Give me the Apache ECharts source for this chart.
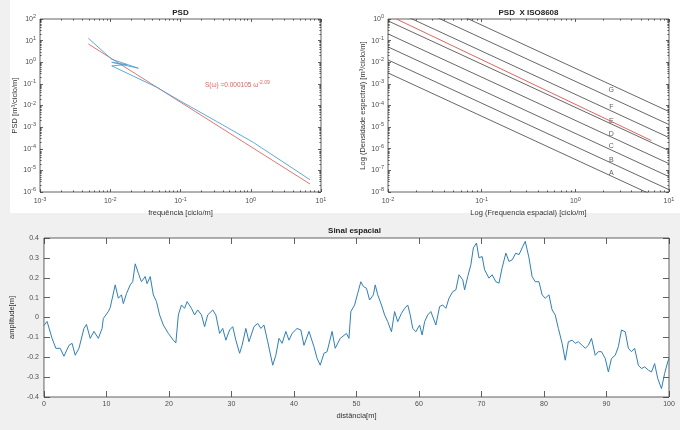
<!DOCTYPE html>
<html><head><meta charset="utf-8">
<script src="https://cdn.jsdelivr.net/npm/echarts@6/dist/echarts.min.js"></script>
<style>
html,body{margin:0;padding:0;background:#f0f0f0;}
#wrap{position:relative;width:680px;height:430px;}
#bgTop{position:absolute;left:10px;top:0;width:670px;height:213px;background:#ffffff;}
#c{position:absolute;left:0;top:0;width:680px;height:430px;}
</style>
</head><body><div id="wrap"><div id="bgTop"></div><div id="c"></div></div>
<script>
// ---------- data ----------
// PSD panel (log-log)
const psdFreq = [0.00488, 0.0105, 0.0251, 0.0105, 0.017, 0.0105, 0.0458, 0.0984, 0.327, 1.09, 6.97];
const psdVal  = [12.8, 1.37, 0.53, 1.0, 0.78, 0.68, 0.070, 0.0164, 0.00183, 1.96e-4, 3.7e-6];
const fitFreq = [0.00488, 6.97];
const fitVal  = [7.0, 2.34e-6];
const fitText = 'S(ω) =0.000105 ω';
const fitExp  = '-2.09';
const fitTextPos = [0.223, 0.09];

// PSD x ISO8608 panel
const isoFreq = [0.01, 10];
const isoStartVal = [3.2e-3, 1.28e-2, 5.12e-2, 0.2048, 0.8192, 3.2768, 13.1072, 52.4288];
const isoEndVal   = [3.2e-9, 1.28e-8, 5.12e-8, 2.048e-7, 8.192e-7, 3.2768e-6, 1.31072e-5, 5.24288e-5];
const isoFitFreq = [0.0123, 6.47];
const isoFitVal  = [1.0, 2.4e-6];
const isoClass   = ['G', 'F', 'E', 'D', 'C', 'B', 'A'];
const isoLabelX  = 2.42;
const isoLabelY  = [5.28e-4, 8.38e-5, 1.83e-5, 4.92e-6, 1.28e-6, 3.1e-7, 7.5e-8];

// Sinal espacial
const sigX = [0,0.5,1.3,1.9,2.6,3.2,4.0,4.5,5.0,5.6,6.4,6.8,7.4,8.0,8.7,9.3,9.5,10.3,10.6,11.4,11.9,12.4,12.7,13.2,13.8,14.2,14.6,15.1,15.6,16.2,16.5,17.0,17.5,18.0,18.5,19.1,19.9,20.7,21.1,21.5,22.0,22.5,22.9,23.6,24.1,24.6,25.2,25.7,26.2,27.0,27.5,28.1,28.6,29.1,29.7,30.2,30.7,31.3,31.7,32.3,32.8,33.6,34.2,34.7,35.2,35.8,36.6,37.1,37.6,38.1,38.7,39.2,39.7,40.5,41.1,41.6,42.4,43.2,43.7,44.2,44.8,45.3,46.1,46.6,47.4,48.4,48.8,49.1,49.7,50.2,50.7,51.1,51.6,52.1,52.7,53.0,53.4,54.0,54.5,55.0,55.6,56.1,56.6,57.2,57.7,58.2,58.6,59.0,59.5,60.1,60.5,60.9,61.4,61.9,62.7,63.3,63.8,64.3,64.8,65.4,65.9,66.4,67.0,67.3,67.8,68.3,68.7,69.2,69.6,70.1,70.5,71.2,71.7,72.3,72.8,73.3,73.9,74.4,74.9,75.5,76.0,76.5,77.0,77.6,78.1,78.6,79.2,79.7,80.2,80.8,81.3,81.8,82.3,82.9,83.4,83.9,84.5,85.0,85.5,86.1,86.6,87.1,87.6,88.2,88.7,89.2,89.8,90.3,90.8,91.4,91.9,92.4,93.0,93.5,94.0,94.5,95.1,95.6,96.1,96.7,97.2,97.7,98.2,98.8,99.3,99.8,100];
const sigY = [-0.04,-0.02,-0.105,-0.155,-0.155,-0.195,-0.14,-0.13,-0.19,-0.155,-0.055,-0.035,-0.105,-0.07,-0.105,-0.055,-0.005,0.03,0.05,0.164,0.097,0.114,0.07,0.12,0.164,0.18,0.27,0.223,0.18,0.206,0.17,0.206,0.114,0.08,0.013,-0.038,-0.08,-0.114,-0.128,0.013,0.063,0.046,0.08,0.046,0.013,0.038,0.013,-0.046,0.013,0.038,0.013,-0.08,-0.055,-0.114,-0.063,-0.046,-0.114,-0.18,-0.14,-0.055,-0.122,-0.046,-0.03,-0.055,-0.038,-0.122,-0.24,-0.19,-0.105,-0.13,-0.07,-0.114,-0.08,-0.055,-0.063,-0.14,-0.07,-0.147,-0.206,-0.24,-0.18,-0.172,-0.07,-0.155,-0.105,-0.08,-0.105,0.03,0.063,0.122,0.18,0.156,0.147,0.088,0.114,0.164,0.114,0.063,0.013,-0.021,-0.072,0.03,-0.021,0.021,0.046,0.063,0.013,-0.055,-0.072,-0.038,-0.088,-0.021,0.013,0.03,-0.038,0.055,0.063,0.046,0.097,0.13,0.139,0.215,0.19,0.139,0.206,0.265,0.35,0.375,0.3,0.307,0.24,0.198,0.215,0.18,0.173,0.25,0.324,0.282,0.29,0.324,0.316,0.35,0.383,0.3,0.206,0.18,0.18,0.114,0.097,0.114,0.038,0.013,-0.055,-0.13,-0.215,-0.122,-0.114,-0.13,-0.122,-0.14,-0.155,-0.14,-0.105,-0.19,-0.172,-0.172,-0.206,-0.274,-0.206,-0.19,-0.147,-0.063,-0.072,-0.155,-0.172,-0.155,-0.24,-0.257,-0.248,-0.265,-0.274,-0.232,-0.307,-0.358,-0.282,-0.223,-0.206];

// ---------- helpers ----------
const FONT = '"Liberation Sans", Arial, Helvetica, sans-serif';
const TXT = '#4d4d4d';
const AX = '#3a3a3a';
function zip(a, b) { return a.map((v, i) => [v, b[i]]); }
function supLabel(v) { const e = Math.round(Math.log10(v)); return '10{e|' + e + '}'; }
const supRich = { e: { fontSize: 5.5, lineHeight: 6, verticalAlign: 'top', color: TXT, fontFamily: FONT } };
function minorVals(lo, hi) { const out = []; for (let m = lo; m < hi; m++) for (let k = 2; k <= 9; k++) out.push(+(k * Math.pow(10, m)).toPrecision(3)); return out; }

function logAxis(grid, pos, min, max, o) {
  o = o || {};
  const ax = {
    type: 'log', logBase: 10, gridIndex: grid, position: pos, min: min, max: max,
    axisLine: { show: false, onZero: false }, splitLine: { show: false }, minorTick: { show: false },
    axisTick: { show: true, inside: true, length: o.minor ? 1.6 : 3, lineStyle: { color: AX, width: 0.8 } },
    axisLabel: { show: false }
  };
  if (o.minor) ax.axisTick.customValues = o.minor;
  if (o.label) {
    ax.axisLabel = { show: true, formatter: supLabel, rich: supRich, fontSize: 7, lineHeight: 11, color: TXT, margin: o.margin || 3, fontFamily: FONT };
  }
  if (o.name) {
    ax.name = o.name; ax.nameLocation = 'middle'; ax.nameGap = o.nameGap;
    ax.nameTextStyle = { fontSize: 7.5, color: '#333', fontFamily: FONT };
  }
  return ax;
}
function valAxis(grid, pos, min, max, interval, o) {
  o = o || {};
  const ax = {
    type: 'value', gridIndex: grid, position: pos, min: min, max: max, interval: interval,
    axisLine: { show: false, onZero: false }, splitLine: { show: false },
    axisTick: { show: true, inside: true, length: 6, lineStyle: { color: AX, width: 0.8 } },
    axisLabel: { show: false }
  };
  if (o.label) ax.axisLabel = { show: true, fontSize: 7, color: TXT, margin: o.margin || 4, fontFamily: FONT };
  if (o.name) {
    ax.name = o.name; ax.nameLocation = 'middle'; ax.nameGap = o.nameGap;
    ax.nameTextStyle = { fontSize: 7.5, color: '#333', fontFamily: FONT };
  }
  return ax;
}

const tlXminor = minorVals(-3, 1), tlYminor = minorVals(-6, 2);
const trXminor = minorVals(-2, 1), trYminor = minorVals(-8, 0);

const gridStyle = { show: true, backgroundColor: '#ffffff', borderColor: AX, borderWidth: 0.8, containLabel: false };

const xAxes = [
  logAxis(0, 'bottom', 0.001, 10, { label: true, margin: 4, name: 'frequência [ciclo/m]', nameGap: 17 }),
  logAxis(0, 'top', 0.001, 10),
  logAxis(0, 'bottom', 0.001, 10, { minor: tlXminor }),
  logAxis(0, 'top', 0.001, 10, { minor: tlXminor }),
  logAxis(1, 'bottom', 0.01, 10, { label: true, margin: 4, name: 'Log (Frequencia espacial) [ciclo/m]', nameGap: 17 }),
  logAxis(1, 'top', 0.01, 10),
  logAxis(1, 'bottom', 0.01, 10, { minor: trXminor }),
  logAxis(1, 'top', 0.01, 10, { minor: trXminor }),
  valAxis(2, 'bottom', 0, 100, 10, { label: true, margin: 4, name: 'distância[m]', nameGap: 15 }),
  valAxis(2, 'top', 0, 100, 10)
];
const yAxes = [
  logAxis(0, 'left', 1e-6, 100, { label: true, margin: 4, name: 'PSD [m³/ciclo/m]', nameGap: 19 }),
  logAxis(0, 'right', 1e-6, 100),
  logAxis(0, 'left', 1e-6, 100, { minor: tlYminor }),
  logAxis(0, 'right', 1e-6, 100, { minor: tlYminor }),
  logAxis(1, 'left', 1e-8, 1, { label: true, margin: 4, name: 'Log (Densidade espectral) [m³/ciclo/m]', nameGap: 19 }),
  logAxis(1, 'right', 1e-8, 1),
  logAxis(1, 'left', 1e-8, 1, { minor: trYminor }),
  logAxis(1, 'right', 1e-8, 1, { minor: trYminor }),
  valAxis(2, 'left', -0.4, 0.4, 0.1, { label: true, margin: 5, name: 'amplitude[m]', nameGap: 18 }),
  valAxis(2, 'right', -0.4, 0.4, 0.1)
];

const series = [];
// PSD panel
series.push({ type: 'line', xAxisIndex: 0, yAxisIndex: 0, data: zip(fitFreq, fitVal), symbol: 'none', lineStyle: { color: '#d9534f', width: 0.8 }, z: 2, silent: true });
series.push({ type: 'line', xAxisIndex: 0, yAxisIndex: 0, data: zip(psdFreq, psdVal), symbol: 'none', lineStyle: { color: '#4aa3d6', width: 0.9 }, z: 3, silent: true });
series.push({ type: 'scatter', xAxisIndex: 0, yAxisIndex: 0, data: [fitTextPos], symbolSize: 0, silent: true,
  label: { show: true, position: 'right', distance: 0, formatter: fitText + '{e|' + fitExp + '}', fontSize: 6.5, lineHeight: 10, color: '#c9393a', fontFamily: FONT,
    rich: { e: { fontSize: 5, lineHeight: 5, verticalAlign: 'top', color: '#c9393a', fontFamily: FONT } } } });
// ISO panel
isoStartVal.forEach((s, i) => {
  series.push({ type: 'line', xAxisIndex: 4, yAxisIndex: 4, data: zip(isoFreq, [s, isoEndVal[i]]), symbol: 'none', clip: true, lineStyle: { color: '#404040', width: 0.8 }, z: 2, silent: true });
});
series.push({ type: 'line', xAxisIndex: 4, yAxisIndex: 4, data: zip(isoFitFreq, isoFitVal), symbol: 'none', lineStyle: { color: '#d9534f', width: 0.9 }, z: 3, silent: true });
series.push({ type: 'scatter', xAxisIndex: 4, yAxisIndex: 4, symbolSize: 0, silent: true,
  data: isoClass.map((c, i) => [isoLabelX, isoLabelY[i], c]),
  label: { show: true, position: 'inside', formatter: p => p.data[2], fontSize: 7, color: '#333', fontFamily: FONT } });
// Signal panel
series.push({ type: 'line', xAxisIndex: 8, yAxisIndex: 8, data: zip(sigX, sigY), symbol: 'none', lineStyle: { color: '#2f7fb6', width: 1 }, z: 3, silent: true });

const chart = echarts.init(document.getElementById('c'), null, { renderer: 'canvas' });
chart.setOption({
  animation: false,
  backgroundColor: 'transparent',
  grid: [
    Object.assign({ left: 40, top: 19, width: 281, height: 173 }, gridStyle),
    Object.assign({ left: 388, top: 19, width: 281, height: 173 }, gridStyle),
    Object.assign({ left: 40, top: 238, width: 629, height: 159 }, gridStyle)
  ],
  xAxis: xAxes,
  yAxis: yAxes,
  series: series,
  graphic: [
    { type: 'text', x: 180.5, y: 13, silent: true, style: { text: 'PSD', align: 'center', verticalAlign: 'middle', font: 'bold 8px ' + FONT, fill: '#222' } },
    { type: 'text', x: 528.5, y: 13, silent: true, style: { text: 'PSD  X ISO8608', align: 'center', verticalAlign: 'middle', font: 'bold 8px ' + FONT, fill: '#222' } },
    { type: 'text', x: 354.5, y: 231, silent: true, style: { text: 'Sinal espacial', align: 'center', verticalAlign: 'middle', font: 'bold 8px ' + FONT, fill: '#222' } }
  ]
});
</script>
</body></html>
